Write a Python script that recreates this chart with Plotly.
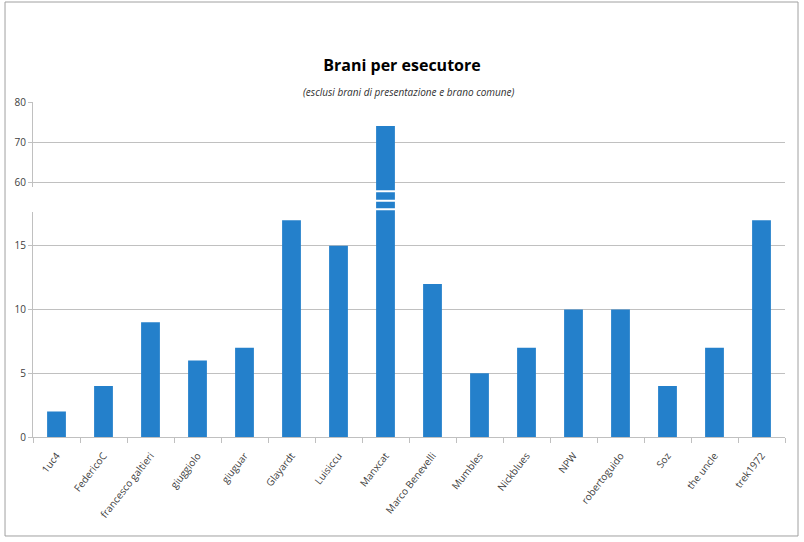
import plotly.graph_objects as go

esecutori = ['1uc4', 'FedericoC', 'francesco galtieri', 'giuggiolo', 'giuguar',
             'Glayardt', 'Luisiccu', 'Manxcat', 'Marco Benevelli', 'Mumbles',
             'Nickblues', 'NPW', 'robertoguido', 'Soz', 'the uncle', 'trek1972']
brani = [2, 4, 9, 6, 7, 17, 15, 74, 12, 5, 7, 10, 10, 4, 7, 17]

ticks_basso = [0, 5, 10, 15]
ticks_alto = [60, 70, 80]

blu = '#2480CB'
griglia = '#C0C0C0'
testo = '#404040'
font = 'Open Sans'

fig = go.Figure()
# same series on the three stacked y axes (broken axis)
for ya in ['y', 'y2', 'y3']:
    fig.add_trace(go.Bar(x=esecutori, y=brani, yaxis=ya, marker=dict(color=blu, line=dict(width=0)),
                         showlegend=False, hoverinfo='x+y'))

fig.update_layout(
    width=804, height=542,
    margin=dict(l=33, r=19, t=102, b=105),
    paper_bgcolor='white', plot_bgcolor='white',
    bargap=0.6,
    title=dict(text='<b>Brani per esecutore</b>', x=0.5, xref='container', xanchor='center',
               y=1 - 65 / 542, yref='container', yanchor='middle',
               font=dict(family=font, size=16, color='black')),
    xaxis=dict(anchor='y', showline=True, linecolor=griglia, linewidth=1, automargin=False,
               ticks='outside', tickson='boundaries', ticklen=5, tickcolor=griglia,
               ticklabelstandoff=8,
               tickangle=-52, tickfont=dict(family=font, size=10, color=testo)),
    yaxis=dict(domain=[0, 0.672], range=[0, 17.65], tickvals=ticks_basso, automargin=False,
               showline=True, linecolor=griglia, gridcolor=griglia, zeroline=False,
               ticks='outside', ticklen=4, tickcolor=griglia,
               tickfont=dict(family=font, size=10, color=testo)),
    yaxis2=dict(domain=[0.746, 1], range=[58.75, 80], tickvals=ticks_alto, anchor='x', automargin=False,
                showline=True, linecolor=griglia, gridcolor=griglia, zeroline=False,
                ticks='outside', ticklen=4, tickcolor=griglia,
                tickfont=dict(family=font, size=10, color=testo)),
    yaxis3=dict(domain=[0.672, 0.746], range=[17.65, 58.75], anchor='x',
                showline=False, showgrid=False, zeroline=False, showticklabels=False, ticks=''),
)

fig.add_annotation(text='<i>(esclusi brani di presentazione e brano comune)</i>',
                   xref='paper', yref='paper', x=0.5, y=(437 - 83) / 335,
                   showarrow=False, font=dict(family=font, size=10, color='#303030'))

# white break stripes across the gap
for yp in [0.7334, 0.7054, 0.6797]:
    fig.add_shape(type='line', xref='paper', yref='paper', x0=0, x1=1, y0=yp, y1=yp,
                  line=dict(color='white', width=2))

# outer chart frame
fig.add_shape(type='rect', xref='paper', yref='paper', x0=-0.0372, x1=1.0173, y0=-0.2955, y1=1.2985,
              line=dict(color='#A0A0A0', width=1))

fig.write_html('out.html', config={'displayModeBar': False},
               post_script="document.body.style.margin='0';")
